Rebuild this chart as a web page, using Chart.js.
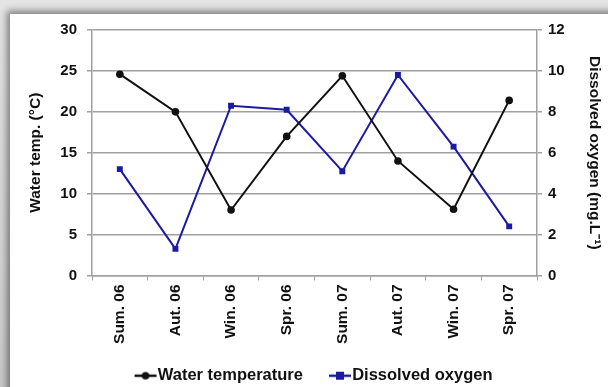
<!DOCTYPE html>
<html><head><meta charset="utf-8">
<script src="https://cdn.jsdelivr.net/npm/chart.js@4"></script>
<style>
html,body{margin:0;padding:0;width:608px;height:387px;overflow:hidden;background:linear-gradient(#e4e4e4,#c9c9c9);}
#card{position:absolute;left:10px;top:14px;width:620px;height:400px;background:#fff;box-shadow:-3px -3px 7px rgba(0,0,0,0.45);}
#wrap{position:absolute;left:0;top:0;width:608px;height:387px;}
</style></head><body>
<div id="card"></div>
<div id="wrap"><canvas id="c" width="608" height="387"></canvas></div>
<script>
const categories = ["Sum. 06","Aut. 06","Win. 06","Spr. 06","Sum. 07","Aut. 07","Win. 07","Spr. 07"];
const waterTemperature = [24.6, 20.0, 8.0, 17.0, 24.4, 14.0, 8.1, 21.4];
const dissolvedOxygen = [5.2, 1.3, 8.3, 8.1, 5.1, 9.8, 6.3, 2.4];
const tempTicks = [0,5,10,15,20,25,30];
const oxyTicks = [0,2,4,6,8,10,12];

const FONT = "'Liberation Sans', Arial, sans-serif";
const BLUE = '#1a1aa3';
const GRID = '#a0a0a0';

function legendIcon(color, style){
  const cv = document.createElement('canvas');
  cv.width = 80; cv.height = 12;
  const g = cv.getContext('2d');
  const a = 37;
  g.strokeStyle = color; g.lineWidth = 2.5;
  g.beginPath(); g.moveTo(a,6); g.lineTo(a+22,6); g.stroke();
  g.fillStyle = color;
  if(style==='circle'){ g.beginPath(); g.arc(a+11,6,3.8,0,Math.PI*2); g.fill(); }
  else { g.fillRect(a+7,2,8,8); }
  return cv;
}

new Chart(document.getElementById('c'), {
  type: 'line',
  data: {
    labels: categories,
    datasets: [
      {label:'Water temperature', data: waterTemperature, yAxisID:'y', borderColor:'#111', backgroundColor:'#111',
       borderWidth:2, pointStyle:'circle', pointRadius:3.8, pointBorderWidth:0, tension:0},
      {label:'Dissolved oxygen', data: dissolvedOxygen, yAxisID:'y1', borderColor:BLUE, backgroundColor:BLUE,
       borderWidth:2, pointStyle:'rect', pointRadius:4.2, pointBorderWidth:0, tension:0}
    ]
  },
  options: {
    responsive:false, animation:false, devicePixelRatio:1,
    layout:{padding:{left:10, right:0, top:30, bottom:-7}},
    plugins:{
      tooltip:{enabled:false},
      legend:{position:'bottom',
        labels:{font:{family:FONT,size:16.5,weight:'bold'}, color:'#111', usePointStyle:true, pointStyleWidth:24, padding:17,
          generateLabels:(chart)=>chart.data.datasets.map((ds,i)=>({
            text:ds.label, pointStyle:legendIcon(ds.borderColor, i===0?'circle':'rect'),
            fillStyle:ds.borderColor, strokeStyle:ds.borderColor, lineWidth:0, datasetIndex:i, hidden:false, fontColor:'#111'
          }))
        }
      }
    },
    scales:{
      x:{
        offset:true,
        grid:{offset:true, drawOnChartArea:false, drawTicks:true, tickLength:5, color:GRID},
        border:{color:GRID, width:1.5},
        ticks:{font:{family:FONT,size:15.5,weight:'bold'}, color:'#111', minRotation:90, maxRotation:90, padding:4, autoSkip:false},
        afterFit:(s)=>{ s.height = 75; }
      },
      y:{
        position:'left', min:0, max:30,
        afterBuildTicks:(s)=>{ s.ticks = tempTicks.map(v=>({value:v})); },
        grid:{color:GRID, lineWidth:1.5, tickLength:5},
        border:{color:GRID, width:1.5},
        ticks:{font:{family:FONT,size:15,weight:'bold'}, color:'#111', padding:10},
        title:{display:true, text:'Water temp. (°C)', font:{family:FONT,size:15.5,weight:'bold'}, color:'#111', padding:{top:16,bottom:0}},
        afterFit:(s)=>{ s.width = 82; }
      },
      y1:{
        position:'right', min:0, max:12,
        afterBuildTicks:(s)=>{ s.ticks = oxyTicks.map(v=>({value:v})); },
        grid:{drawOnChartArea:false, color:GRID, lineWidth:1.5, tickLength:5},
        border:{color:GRID, width:1.5},
        ticks:{font:{family:FONT,size:15,weight:'bold'}, color:'#111', padding:6},
        title:{display:true, text:'Dissolved oxygen (mg.L⁻¹)', font:{family:FONT,size:15.5,weight:'bold'}, color:'#111', padding:{top:4,bottom:0}},
        afterFit:(s)=>{ s.width = 71; }
      }
    }
  }
});
</script>
</body></html>
